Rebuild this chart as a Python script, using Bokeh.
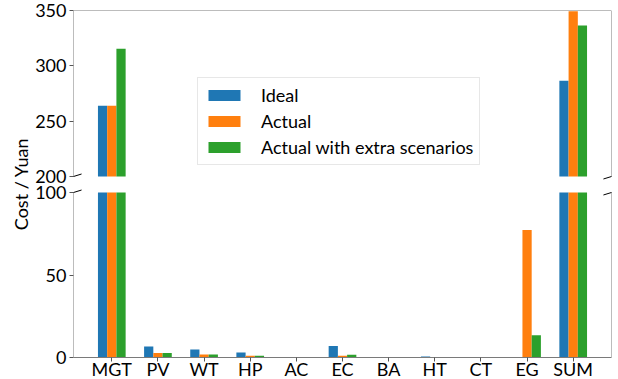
import numpy as np
from bokeh.plotting import figure
from bokeh.models import Range1d, FixedTicker, Arrow
from bokeh.embed import file_html
from bokeh.resources import INLINE

# cost components (Yuan) per device / term
categories = ["MGT", "PV", "WT", "HP", "AC", "EC", "BA", "HT", "CT", "EG", "SUM"]
ideal = [264.0, 6.6, 4.8, 3.0, 0.0, 7.0, 0.2, 0.6, 0.3, 0.0, 286.6]
actual = [264.0, 2.8, 1.8, 1.0, 0.0, 1.0, 0.1, 0.3, 0.3, 77.2, 349.4]
extra = [315.5, 2.8, 1.8, 1.0, 0.0, 1.6, 0.1, 0.3, 0.3, 13.5, 336.4]

series_names = ["Ideal", "Actual", "Actual with extra scenarios"]
series_colors = ["#1f77b4", "#ff7f0e", "#2ca02c"]
series_values = [ideal, actual, extra]

upper_ticks = [200, 250, 300, 350]
lower_ticks = [0, 50, 100]

FONT = "Lato"
FSIZE = "18px"
SPINE = "#7a7a7a"
TICK = "#555555"

# broken y axis: lower panel 0..100, upper panel 200..350, stacked in one frame
LOW_LO, LOW_HI = 0.0, 100.0
UP_LO, UP_HI = 200.0, 350.0
H_LOW, H_GAP, H_UP = 165, 16, 166
FRAME_H = H_LOW + H_GAP + H_UP

low_end = LOW_LO + (LOW_HI - LOW_LO) * FRAME_H / H_LOW
up_start = UP_LO - (UP_HI - UP_LO) * (H_LOW + H_GAP) / H_UP

x = np.arange(len(categories))
x_range = Range1d(-0.83, 10.83)
bar_w = 0.2
offsets = [-0.2, 0.0, 0.2]

p = figure(frame_width=538, frame_height=FRAME_H, x_range=x_range,
           y_range=Range1d(LOW_LO, low_end), output_backend="svg",
           toolbar_location=None, min_border_left=73, min_border_right=7,
           min_border_top=10, min_border_bottom=22)
p.extra_y_ranges = {"upper": Range1d(up_start, UP_HI)}
p.outline_line_color = None
p.grid.visible = False
p.background_fill_color = "white"
p.border_fill_color = "white"


def to_lower(v):
    # position of an upper-panel value expressed in the lower range's units
    return LOW_LO + (v - up_start) / (UP_HI - up_start) * (low_end - LOW_LO)


for ax in (p.xaxis[0], p.yaxis[0]):
    ax.major_tick_line_color = TICK
    ax.minor_tick_line_color = None
    ax.major_tick_in = 0
    ax.major_tick_out = 4
    ax.major_label_text_font = FONT
    ax.major_label_text_font_size = FSIZE
    ax.major_label_text_color = "black"

xa = p.xaxis[0]
xa.axis_line_color = SPINE
xa.ticker = FixedTicker(ticks=list(range(len(categories))))
xa.major_label_overrides = {i: c for i, c in enumerate(categories)}
xa.major_label_standoff = -4

ya = p.yaxis[0]
ya.axis_line_color = None
up_pos = [to_lower(v) for v in upper_ticks]
ya.ticker = FixedTicker(ticks=lower_ticks + up_pos)
overrides = {t: str(t) for t in lower_ticks}
overrides.update({pos: str(v) for pos, v in zip(up_pos, upper_ticks)})
ya.major_label_overrides = overrides
ya.major_label_standoff = 3
ya.axis_label = "Cost / Yuan"
ya.axis_label_text_font = FONT
ya.axis_label_text_font_size = FSIZE
ya.axis_label_text_font_style = "normal"
ya.axis_label_text_color = "black"
ya.axis_label_standoff = 0

for name, color, vals, off in zip(series_names, series_colors, series_values, offsets):
    v = np.asarray(vals, dtype=float)
    p.vbar(x=x + off, width=bar_w, bottom=UP_LO, top=np.clip(v, UP_LO, UP_HI),
           fill_color=color, line_color=None, legend_label=name, y_range_name="upper")
    p.vbar(x=x + off, width=bar_w, bottom=LOW_LO, top=np.minimum(v, LOW_HI),
           fill_color=color, line_color=None)


def seg(x0, y0, x1, y1, rng="default", color=SPINE):
    p.add_layout(Arrow(end=None, x_start=x0, y_start=y0, x_end=x1, y_end=y1,
                       line_color=color, line_width=1, y_range_name=rng))


xs, xe = x_range.start, x_range.end
# spines of both panels
seg(xs, LOW_LO, xs, LOW_HI)
seg(xe, LOW_LO, xe, LOW_HI)
seg(xs, UP_LO, xs, UP_HI, "upper")
seg(xe, UP_LO, xe, UP_HI, "upper")
seg(xs, UP_HI, xe, UP_HI, "upper")

# diagonal break marks
d = 0.015
span_x = xe - xs
for rng, y_edge, h in (("upper", UP_LO, UP_HI - UP_LO), ("default", LOW_HI, LOW_HI - LOW_LO)):
    for xb in (xs, xe):
        seg(xb - d * span_x, y_edge - d * h, xb + d * span_x, y_edge + d * h, rng, "black")

lg = p.legend[0]
lg.location = (124, 192)
lg.padding = 6
lg.spacing = 4
lg.margin = 0
lg.glyph_width = 40
lg.glyph_height = 14
lg.label_height = 22
lg.label_standoff = 17
lg.label_text_font = FONT
lg.label_text_font_size = FSIZE
lg.label_text_color = "black"
lg.border_line_color = "#d0d0d0"
lg.background_fill_alpha = 0.8

open("out.html", "w").write(file_html(p, INLINE))
